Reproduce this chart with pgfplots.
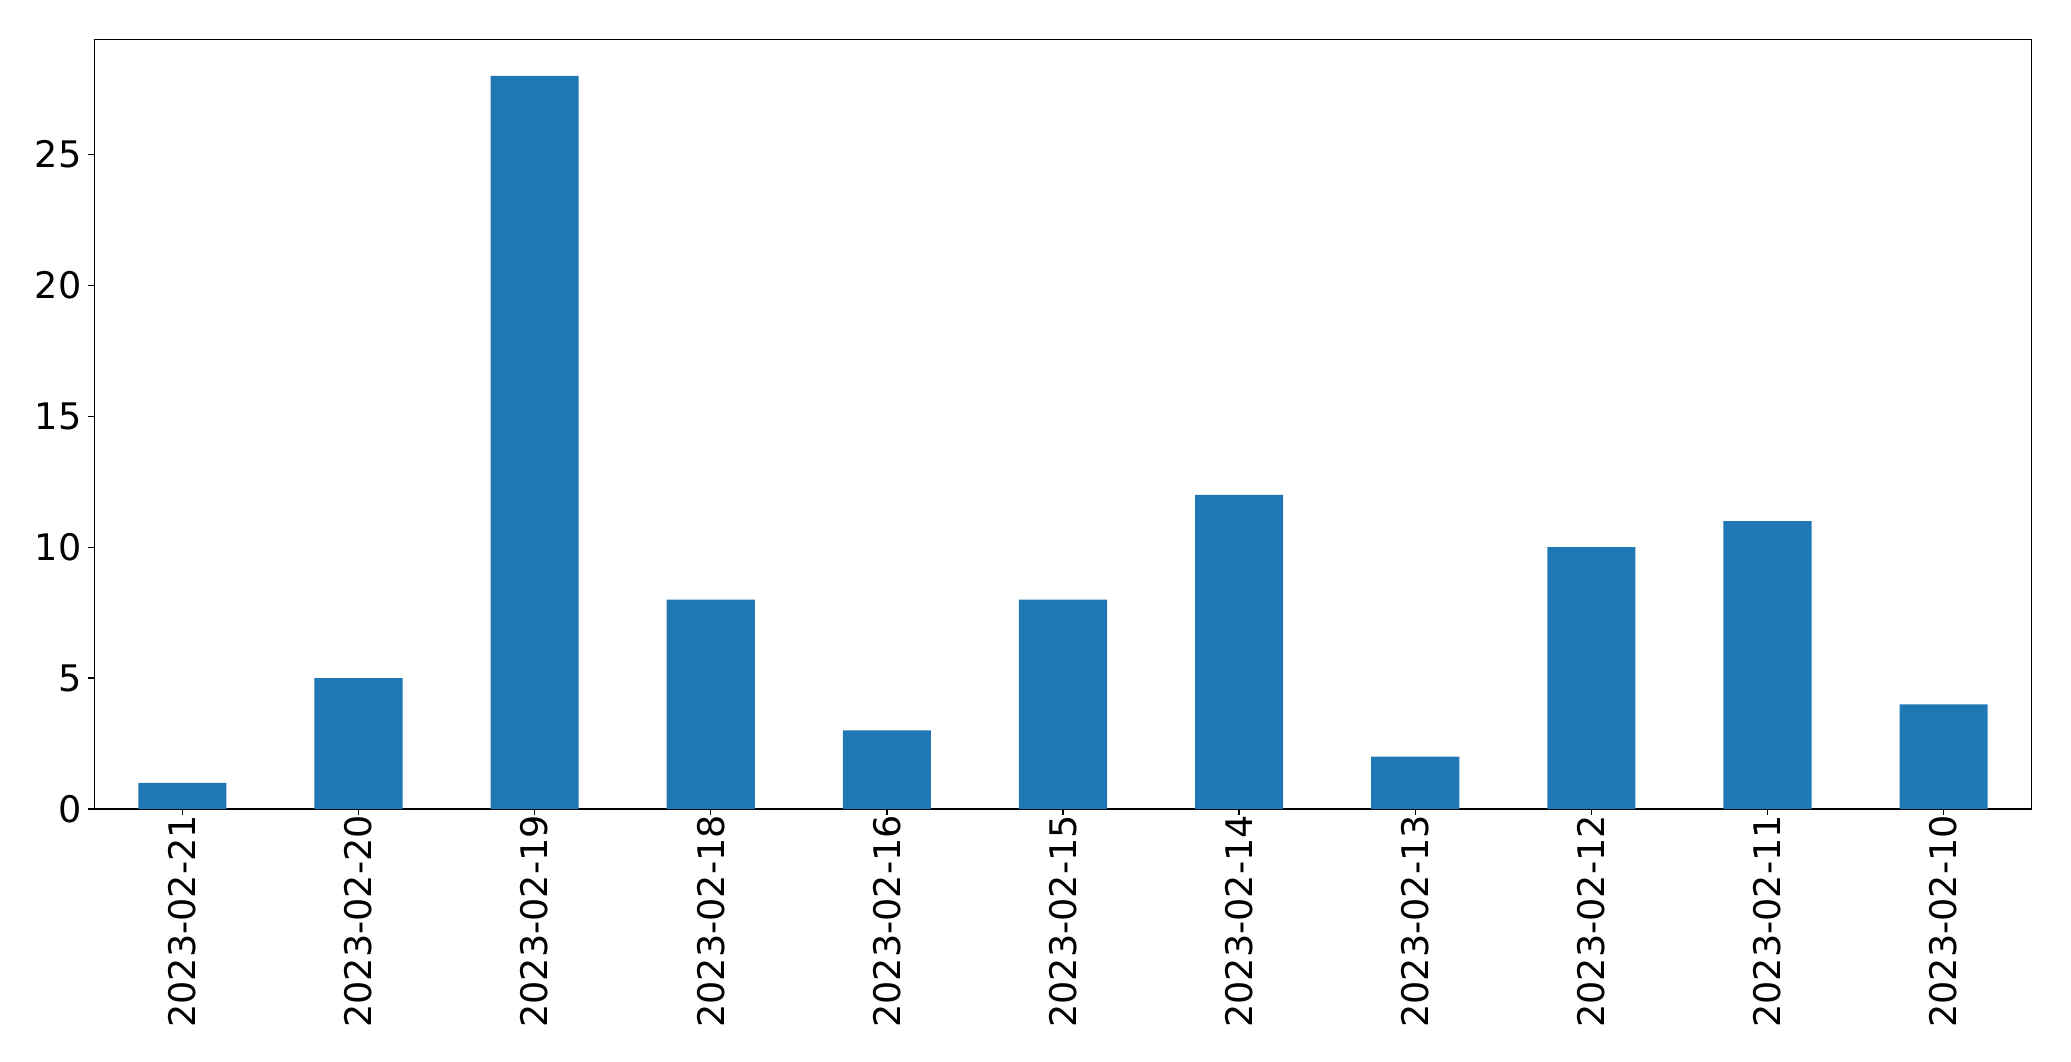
\documentclass[border=0pt]{standalone}
\usepackage{fontspec}
\setmainfont{DejaVu Sans}
\usepackage{pgfplots}
\pgfplotsset{compat=1.18}
\definecolor{mplblue}{HTML}{1F77B4}
\begin{document}
\begin{tikzpicture}
\begin{axis}[
  scale only axis,
  width=1937.4bp, height=769.7bp,
  xmin=-0.5, xmax=10.5,
  ymin=0, ymax=29.4,
  axis line style={line width=1.33bp},
  tick style={line width=1.33bp, black},
  major tick length=5.8bp,
  tick align=outside,
  xtick={0,...,10},
  xticklabels={2023-02-21,2023-02-20,2023-02-19,2023-02-18,2023-02-16,2023-02-15,2023-02-14,2023-02-13,2023-02-12,2023-02-11,2023-02-10},
  ytick={0,5,10,15,20,25},
  xtick pos=bottom, ytick pos=left,
  /pgf/number format/assume math mode=true,
  ticklabel style={font=\fontsize{36.6bp}{44bp}\selectfont},
  xticklabel style={rotate=90, anchor=east, inner sep=0pt},
  yticklabel style={inner sep=0pt, xshift=-6.8bp},
  ybar, bar width=0.5, bar shift=0pt,
]
\addplot[fill=mplblue, draw=none] coordinates {
(0,1) (1,5) (2,28) (3,8) (4,3) (5,8) (6,12) (7,2) (8,10) (9,11) (10,4)
};
\end{axis}
\path (current axis.south west) ++(-94.3bp,-252bp) coordinate (a);
\path (current axis.north east) ++(39.3bp,39.3bp) coordinate (b);
\path (a) rectangle (b);
\end{tikzpicture}
\end{document}
